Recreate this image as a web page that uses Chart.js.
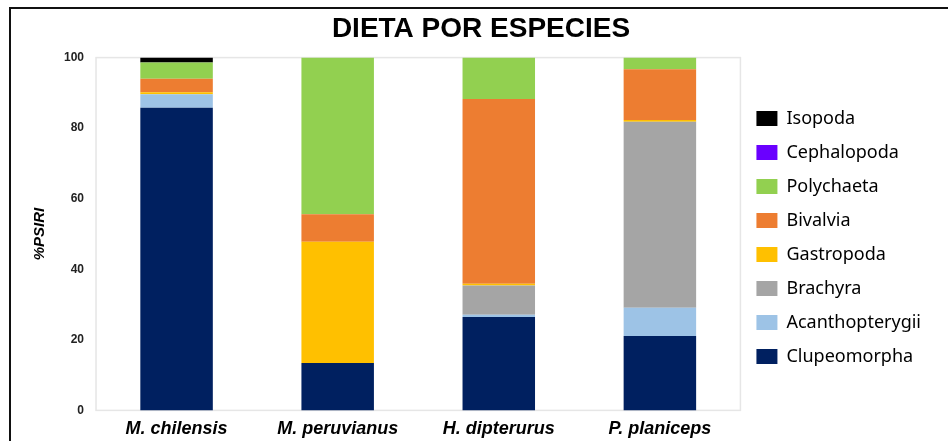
<!DOCTYPE html>
<html lang="es">
<head>
  <meta charset="UTF-8" />
  <title>Dieta por especies</title>
  <script src="https://cdn.jsdelivr.net/npm/chart.js"></script>
  <style>
    html, body {
      margin: 0;
      padding: 0;
      background: #fff;
    }
    #wrap {
      position: relative;
      width: 948px;
      height: 441px;
    }
    #frame {
      position: absolute;
      left: 9px;
      top: 7px;
      right: 0;
      bottom: 0;
      border-top: 2px solid #111;
      border-left: 2px solid #111;
      pointer-events: none;
    }
  </style>
</head>
<body>
  <div id="wrap">
    <canvas id="dietChart" width="948" height="441"></canvas>
    <div id="frame"></div>
  </div>

  <script>
    const species = ["M. chilensis", "M. peruvianus", "H. dipterurus", "P. planiceps"];

    // %PSIRI per prey group, one value per predator species
    const clupeomorpha    = [85.8, 13.4, 26.5, 21.1];
    const acanthopterygii = [3.8, 0, 0.6, 8.0];
    const brachyra        = [0, 0, 8.3, 52.7];
    const gastropoda      = [0.6, 34.4, 0.5, 0.5];
    const bivalvia        = [3.8, 7.8, 52.4, 14.4];
    const polychaeta      = [4.6, 44.4, 11.7, 3.3];
    const cephalopoda     = [0, 0, 0, 0];
    const isopoda         = [1.4, 0, 0, 0];

    const yTicks = [0, 20, 40, 60, 80, 100];

    // thin grey box around the plotting area
    const plotBox = {
      id: "plotBox",
      beforeDatasetsDraw(chart) {
        const { ctx, chartArea: a } = chart;
        ctx.save();
        ctx.strokeStyle = "#e6e6e6";
        ctx.lineWidth = 1.5;
        ctx.strokeRect(a.left, a.top, a.right - a.left, a.bottom - a.top);
        ctx.restore();
      }
    };

    const ctx = document.getElementById("dietChart").getContext("2d");
    new Chart(ctx, {
      type: "bar",
      data: {
        labels: species,
        datasets: [
          { label: "Clupeomorpha", data: clupeomorpha, backgroundColor: "#002060" },
          { label: "Acanthopterygii", data: acanthopterygii, backgroundColor: "#9DC3E6" },
          { label: "Brachyra", data: brachyra, backgroundColor: "#A5A5A5" },
          { label: "Gastropoda", data: gastropoda, backgroundColor: "#FFC000" },
          { label: "Bivalvia", data: bivalvia, backgroundColor: "#ED7D31" },
          { label: "Polychaeta", data: polychaeta, backgroundColor: "#92D050" },
          { label: "Cephalopoda", data: cephalopoda, backgroundColor: "#6A00FF" },
          { label: "Isopoda", data: isopoda, backgroundColor: "#000000" },
        ],
      },
      options: {
        responsive: false,
        animation: false,
        layout: { padding: { left: 31, right: 17, top: 0, bottom: 1 } },
        datasets: {
          bar: { categoryPercentage: 1, barPercentage: 0.45, borderWidth: 0 }
        },
        plugins: {
          title: {
            display: true,
            text: "DIETA POR ESPECIES",
            color: "#000",
            font: { family: "Liberation Sans, Arial, sans-serif", size: 28, weight: "bold" },
            padding: { top: 12, bottom: 12 }
          },
          legend: {
            position: "right",
            reverse: true,
            // empty title just pushes the entries down a little
            title: {
              display: true,
              text: " ",
              font: { size: 10 },
              padding: { top: 23, bottom: 0 }
            },
            labels: {
              color: "#000",
              boxWidth: 21,
              boxHeight: 15,
              padding: 16,
              font: { family: "Noto Sans, sans-serif", size: 18 }
            }
          },
          tooltip: { enabled: false }
        },
        scales: {
          x: {
            stacked: true,
            grid: { display: false },
            border: { display: false },
            ticks: {
              color: "#000",
              padding: 0,
              font: { family: "Liberation Sans, Arial, sans-serif", size: 18, weight: "bold", style: "italic" }
            }
          },
          y: {
            stacked: true,
            min: 0,
            max: 100,
            afterBuildTicks(axis) {
              axis.ticks = yTicks.map(v => ({ value: v }));
            },
            grid: { display: false },
            border: { display: false },
            ticks: {
              color: "#222",
              padding: 4,
              font: { family: "Liberation Sans, Arial, sans-serif", size: 12, weight: "bold" }
            },
            title: {
              display: true,
              text: "%PSIRI",
              color: "#000",
              padding: { top: 0, bottom: 11 },
              font: { family: "Liberation Sans, Arial, sans-serif", size: 15, weight: "bold", style: "italic" }
            }
          }
        }
      },
      plugins: [plotBox]
    });
  </script>
</body>
</html>
